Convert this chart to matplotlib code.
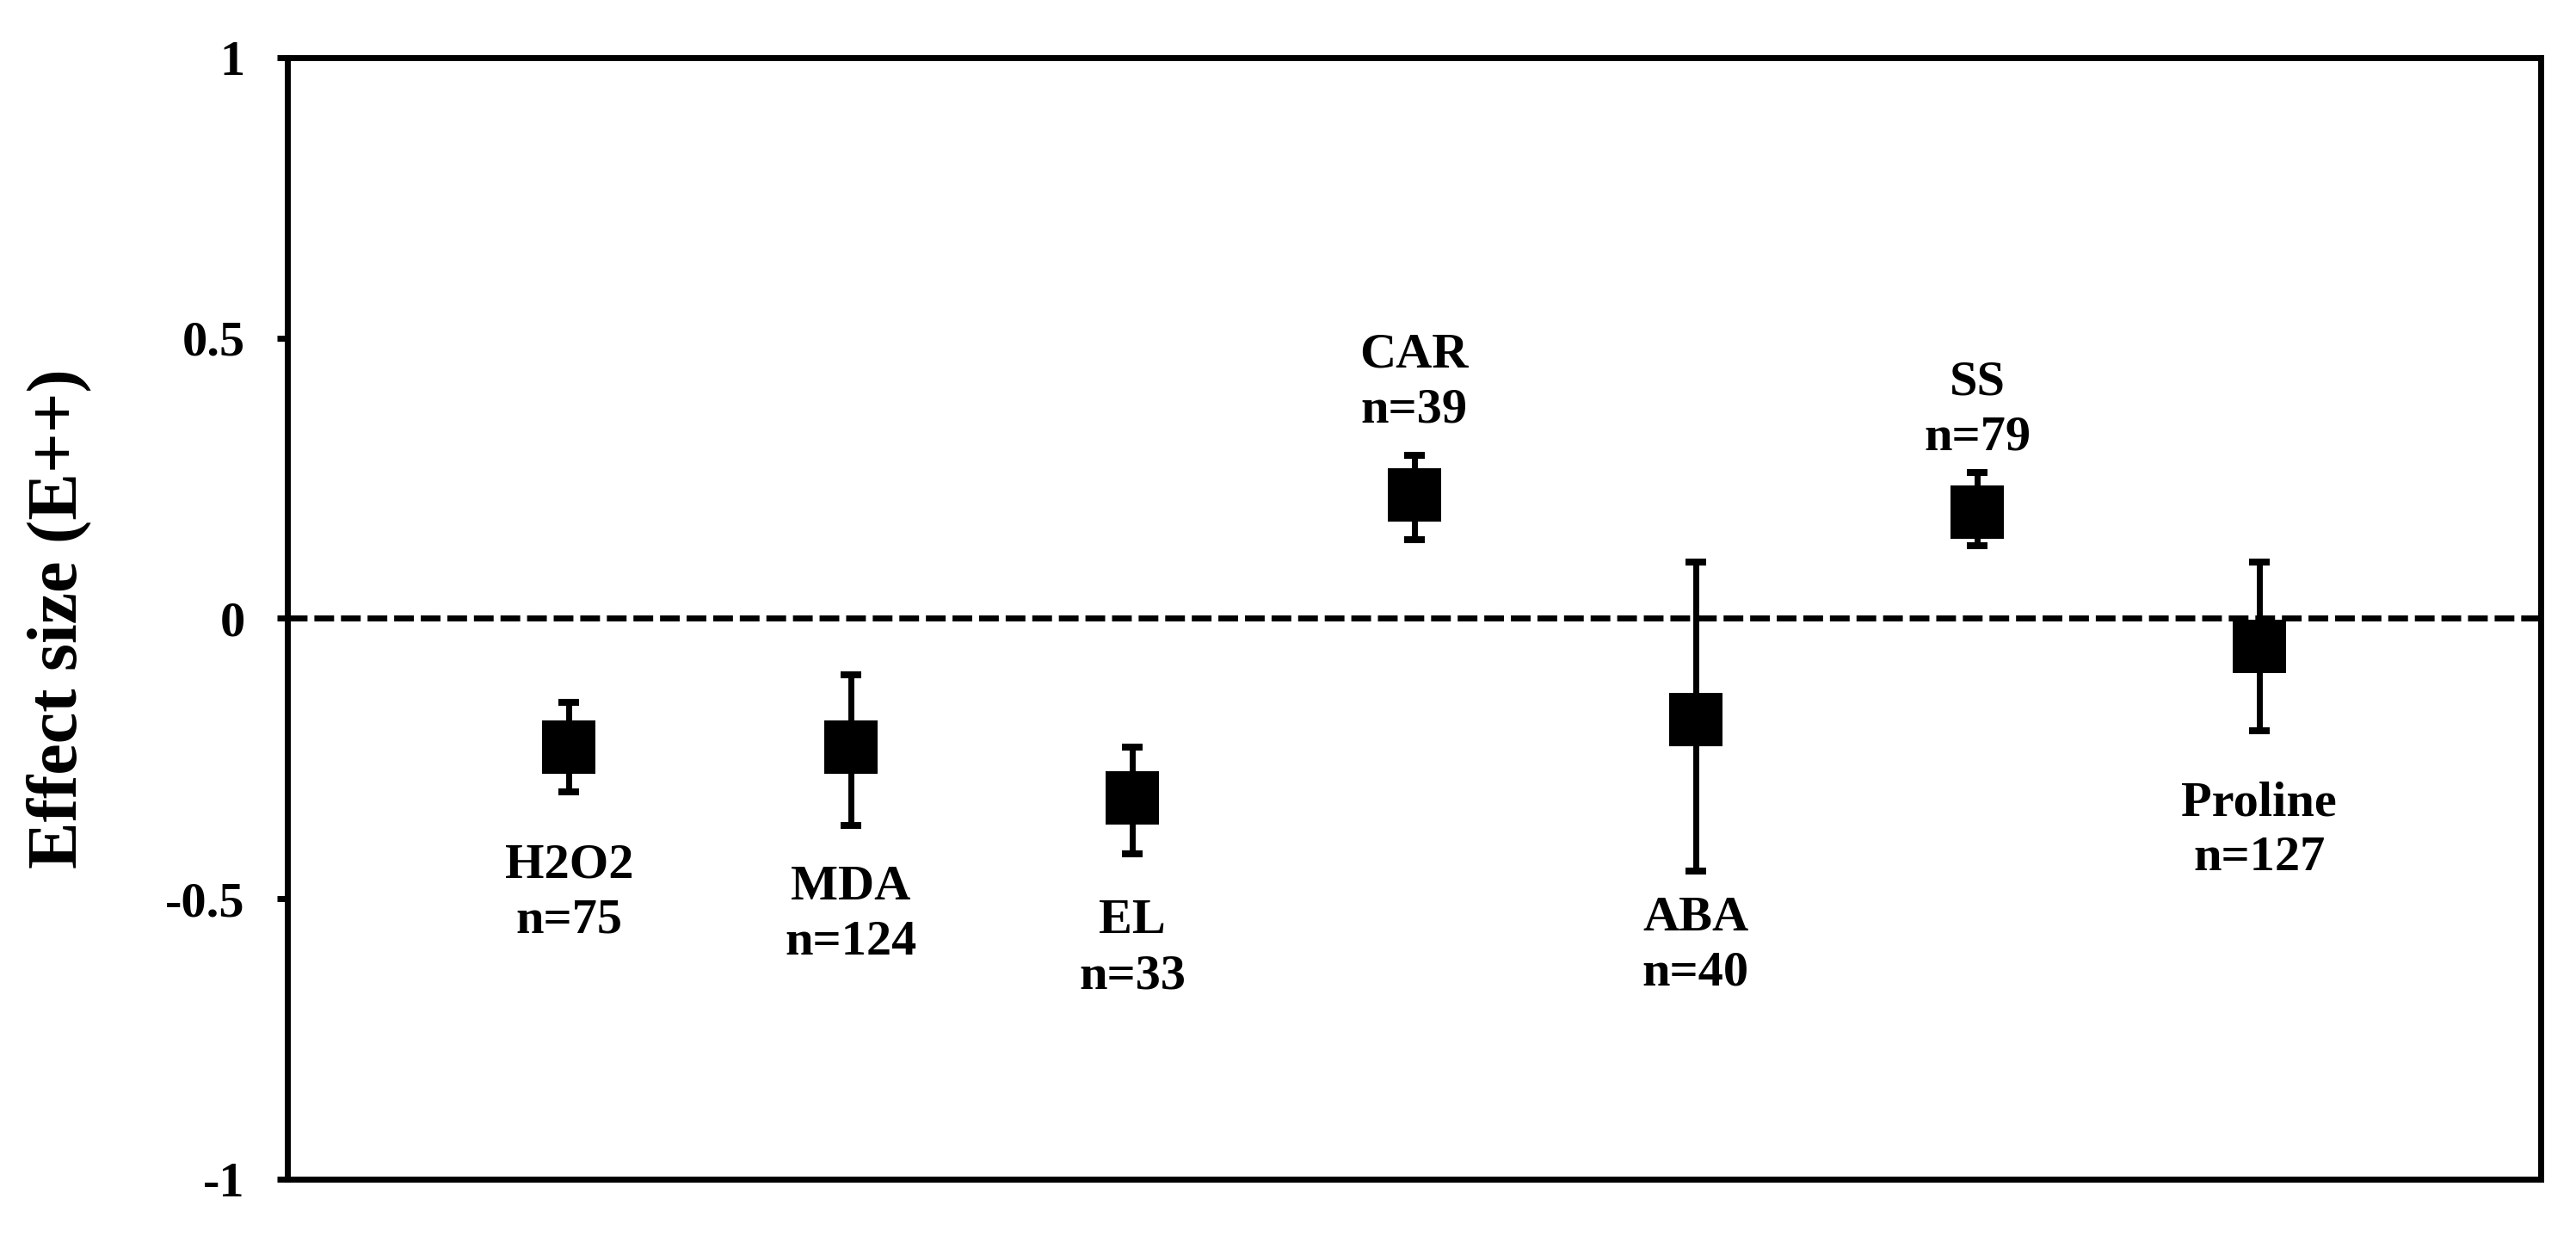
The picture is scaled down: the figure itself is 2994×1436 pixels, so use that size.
import numpy as np
import matplotlib.pyplot as plt

# dados do gráfico
categorias = ['H2O2', 'MDA', 'EL', 'CAR', 'ABA', 'SS', 'Proline']
n_estudos = [75, 124, 33, 39, 40, 79, 127]
efeito = [-0.23, -0.23, -0.32, 0.22, -0.18, 0.19, -0.05]
ic_sup = [-0.15, -0.10, -0.23, 0.29, 0.10, 0.26, 0.10]
ic_inf = [-0.31, -0.37, -0.42, 0.14, -0.45, 0.13, -0.20]

# posicao vertical do topo de cada rotulo (layout)
rotulo_topo = [-0.39, -0.43, -0.49, 0.52, -0.485, 0.47, -0.28]

plt.rcParams['font.family'] = ['Liberation Serif', 'DejaVu Serif']
plt.rcParams['font.weight'] = 'bold'

fig = plt.figure(figsize=(29.94, 14.36), dpi=100)
ax = fig.add_axes([0.1116, 0.046, 0.8747, 0.9074])

x = np.arange(1, len(categorias) + 1)
y = np.array(efeito)
yerr = [y - np.array(ic_inf), np.array(ic_sup) - y]

ax.axhline(0, color='black', lw=5, dashes=(3.3, 1.15), zorder=1)
ax.errorbar(x, y, yerr=yerr, fmt='none', ecolor='black',
            elinewidth=5, capsize=8.3, capthick=5.8, zorder=2)
ax.plot(x, y, 's', color='black', markersize=44, markeredgewidth=0, zorder=3)

for xi, nome, n, yt in zip(x, categorias, n_estudos, rotulo_topo):
    ax.text(xi, yt - 0.01, f'{nome}\nn={n}', ha='center', va='top',
            fontsize=42, fontweight='bold', linespacing=1.3)

ax.set_xlim(0, 8)
ax.set_ylim(-1, 1)
ax.set_xticks([])
ax.set_yticks([-1, -0.5, 0, 0.5, 1])
ax.set_yticklabels(['-1', '-0.5', '0', '0.5', '1'])
ax.tick_params(axis='y', direction='out', length=8.6, width=5, pad=27, labelsize=42)
for s in ax.spines.values():
    s.set_linewidth(5)

ax.set_ylabel('Effect size (E++)', fontsize=59, fontweight='bold')
ax.yaxis.set_label_coords(-0.087, 0.5)

fig.savefig('out.png', dpi=100)
